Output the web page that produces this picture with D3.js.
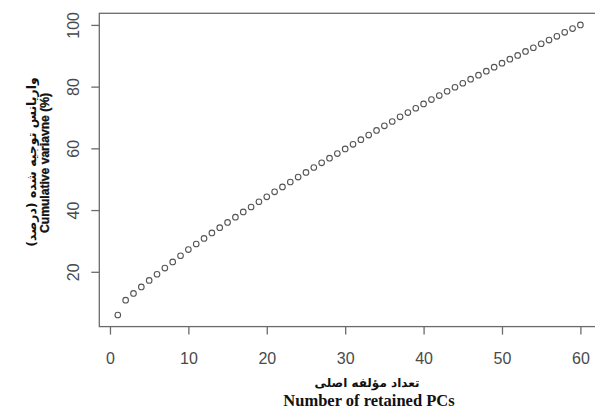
<!DOCTYPE html>
<html>
<head>
<meta charset="utf-8">
<script src="https://cdn.jsdelivr.net/npm/d3@7"></script>
<style>
  body { margin: 0; background: #fff; }
  svg { display: block; }
</style>
</head>
<body>
<div id="chart"></div>
<script>
// number of retained PCs vs cumulative variance (%)
var pcs = d3.range(1, 61)
var cumVar = [
    6.0, 10.8, 13.0, 15.1, 17.2, 19.2, 21.2, 23.2, 25.2, 27.2,
    29.0, 30.8, 32.6, 34.3, 36.0, 37.7, 39.4, 41.0, 42.7, 44.3,
    45.9, 47.5, 49.1, 50.7, 52.2, 53.8, 55.3, 56.8, 58.3, 59.8,
    61.3, 62.8, 64.3, 65.8, 67.3, 68.7, 70.2, 71.6, 73.0, 74.4,
    75.8, 77.1, 78.5, 79.8, 81.1, 82.4, 83.7, 85.0, 86.3, 87.6,
    88.9, 90.1, 91.4, 92.6, 93.9, 95.1, 96.3, 97.6, 98.8, 100.0
]
var xTicks = [0, 10, 20, 30, 40, 50, 60]
var yTicks = [20, 40, 60, 80, 100]

var xTitleFa = "تعداد مؤلفه اصلی"
var xTitleEn = "Number of retained PCs"
var yTitleFa = "واریانس توجیه شده (درصد)"
var yTitleEn = "Cumulative variavne (%)"

var width = 595, height = 410
var plot = { left: 99.3, right: 598.9, top: 13.3, bottom: 326.6 }

var svg = d3.select("#chart")
    .append("svg")
    .attr("width", width)
    .attr("height", height)

// R style 4% padding around data range
var x = d3.scaleLinear()
    .domain([1 - 59 * 0.04, 60 + 59 * 0.04])
    .range([plot.left, plot.right])

var y = d3.scaleLinear()
    .domain([6 - 94 * 0.04, 100 + 94 * 0.04])
    .range([plot.bottom, plot.top])

var axisColor = "#6b6b6b"
var labelColor = "#4a4a4a"

// box
svg.append("rect")
    .attr("x", plot.left)
    .attr("y", plot.top)
    .attr("width", plot.right - plot.left)
    .attr("height", plot.bottom - plot.top)
    .attr("fill", "none")
    .attr("stroke", axisColor)
    .attr("stroke-width", 1.3)

// x axis
var gx = svg.append("g")
    .attr("transform", `translate(0,${plot.bottom})`)
    .call(d3.axisBottom(x).tickValues(xTicks).tickSize(8).tickFormat(d3.format("d")))
gx.select(".domain").remove()
gx.selectAll("line").attr("stroke", axisColor).attr("stroke-width", 1.3)
gx.selectAll("text")
    .attr("y", 37.5)
    .attr("dy", 0)
    .attr("fill", labelColor)
    .attr("font-family", "Liberation Sans, Arial, sans-serif")
    .attr("font-size", 16)

// y axis
var gy = svg.append("g")
    .attr("transform", `translate(${plot.left},0)`)
    .call(d3.axisLeft(y).tickValues(yTicks).tickSize(8).tickFormat(d3.format("d")))
gy.select(".domain").remove()
gy.selectAll("line").attr("stroke", axisColor).attr("stroke-width", 1.3)
gy.selectAll("text")
    .attr("x", 0)
    .attr("dy", 0)
    .attr("transform", "translate(-20,0) rotate(-90)")
    .attr("text-anchor", "middle")
    .attr("fill", labelColor)
    .attr("font-family", "Liberation Sans, Arial, sans-serif")
    .attr("font-size", 16)

// points
svg.append("g")
    .selectAll("circle")
    .data(pcs)
    .enter()
    .append("circle")
    .attr("cx", function(d) { return x(d) })
    .attr("cy", function(d, i) { return y(cumVar[i]) })
    .attr("r", 2.8)
    .attr("fill", "none")
    .attr("stroke", "#555")
    .attr("stroke-width", 1.1)

// axis titles
svg.append("text")
    .attr("x", 367)
    .attr("y", 387)
    .attr("text-anchor", "middle")
    .attr("direction", "rtl")
    .attr("font-family", "DejaVu Sans, sans-serif")
    .attr("font-weight", "bold")
    .attr("font-size", 12)
    .attr("fill", "#111")
    .text(xTitleFa)

svg.append("text")
    .attr("x", 369)
    .attr("y", 406)
    .attr("text-anchor", "middle")
    .attr("font-family", "Liberation Serif, Times New Roman, serif")
    .attr("font-weight", "bold")
    .attr("font-size", 16.5)
    .attr("fill", "#111")
    .text(xTitleEn)

svg.append("text")
    .attr("transform", "translate(36,162) rotate(-90)")
    .attr("text-anchor", "middle")
    .attr("direction", "rtl")
    .attr("font-family", "DejaVu Sans, sans-serif")
    .attr("font-weight", "bold")
    .attr("font-size", 12.5)
    .attr("fill", "#111")
    .text(yTitleFa)

// bold, slightly condensed like the reference
svg.append("text")
    .attr("transform", "translate(48.5,163) rotate(-90)")
    .attr("text-anchor", "middle")
    .attr("font-family", "Liberation Sans, Arial, sans-serif")
    .attr("font-weight", "bold")
    .attr("font-size", 13.5)
    .attr("textLength", 140)
    .attr("lengthAdjust", "spacingAndGlyphs")
    .attr("fill", "#111")
    .attr("stroke", "#111")
    .attr("stroke-width", 0.35)
    .text(yTitleEn)
</script>
</body>
</html>
